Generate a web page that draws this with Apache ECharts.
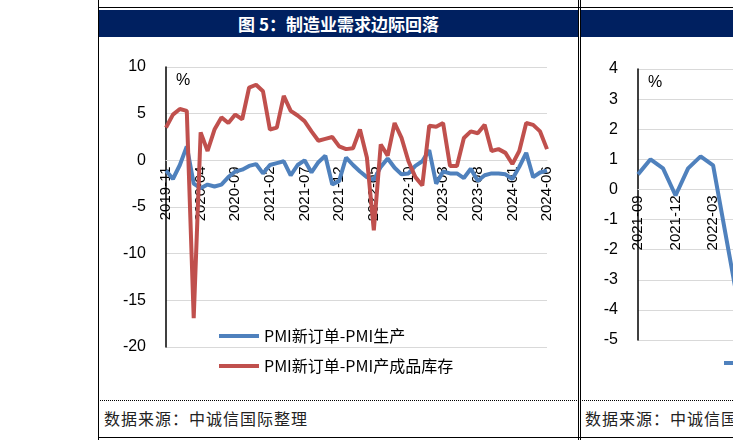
<!DOCTYPE html>
<html><head><meta charset="utf-8">
<script src="https://cdn.jsdelivr.net/npm/echarts@6/dist/echarts.min.js"></script>
<style>
body{margin:0;width:733px;height:440px;overflow:hidden;background:#fff;position:relative;font-family:"Noto Sans CJK SC",sans-serif}
.hdr{position:absolute;top:10px;height:27px;background:#002060;color:#fff;font-size:17px;font-weight:bold;line-height:27px;text-align:center}
.src{position:absolute;top:406px;font-size:16px;color:#222;letter-spacing:1px;white-space:nowrap}
.vl{position:absolute;top:0;height:440px;border-left:1.5px solid #000}
</style></head><body>
<div style="position:absolute;left:98px;top:7px;width:635px;border-top:1px solid #000"></div>
<div class="hdr" style="left:99px;width:479px">图 5：制造业需求边际回落</div>
<div class="hdr" style="left:581px;width:152px"></div>
<div id="c1" style="position:absolute;left:99px;top:38px;width:479px;height:360px"></div>
<div style="position:absolute;left:581px;top:38px;width:152px;height:360px;overflow:hidden"><div id="c2" style="width:400px;height:360px"></div></div>
<div style="position:absolute;left:98px;top:400px;width:635px;border-top:1px dotted #000"></div>
<div style="position:absolute;left:98px;top:437px;width:635px;border-top:1.5px solid #000"></div>
<div class="src" style="left:104px">数据来源：中诚信国际整理</div>
<div style="position:absolute;left:581px;top:400px;width:152px;height:36px;overflow:hidden"><div class="src" style="left:4px;top:6px">数据来源：中诚信国际整理</div></div>
<div class="vl" style="left:98px"></div><div class="vl" style="left:578px"></div><div class="vl" style="left:580px"></div>
<script>
const months=[];
for(let y=2019,m=11;!(y===2024&&m===7);){months.push(y+'-'+String(m).padStart(2,'0'));m++;if(m>12){m=1;y++;}}
const newOrderMinusProd=[-1.1,-2.0,-0.5,1.5,-2.5,-3.0,-2.6,-2.8,-2.6,-1.8,-1.2,-1.0,-0.6,-0.4,-1.4,-0.5,-0.3,-0.1,-1.6,-0.5,0.0,-1.3,-0.2,0.5,-2.6,-2.2,0.3,-0.5,-1.2,-1.8,-2.1,-0.7,0.2,-0.8,-1.5,-1.4,-0.6,-0.1,1.1,-2.5,-1.2,-1.4,-1.4,-1.9,-0.9,-2.2,-1.6,-1.4,-1.4,-1.5,-2.0,-0.7,0.8,-1.8,-1.3,-1.1];
const newOrderMinusInv=[3.5,4.9,5.5,5.3,-16.9,3.0,1.0,3.3,4.6,4.0,4.9,4.4,7.8,8.1,7.4,3.3,3.5,6.9,5.3,4.8,4.2,3.1,2.1,2.3,2.5,1.5,1.2,1.3,3.3,0.3,-7.5,1.7,0.5,4.0,2.4,-0.1,-1.8,-2.7,3.7,3.6,4.0,-0.6,-0.6,2.4,3.1,2.9,3.8,1.0,1.2,0.8,-0.4,1.0,4.0,3.8,3.1,1.2];
const months2=['2021-09','2021-10','2021-11','2021-12','2022-01','2022-02','2022-03','2022-04','2022-05','2022-06','2022-07','2022-08','2022-09','2022-10','2022-11','2022-12','2023-01','2023-02','2023-03','2023-04','2023-05','2023-06','2023-07','2023-08','2023-09','2023-10'];
const right2=[0.5,1.0,0.7,-0.2,0.7,1.1,0.8,-1.5,-3.8,-2.0,-1.0,-0.5,0.2,-0.6,-1.2,-0.8,0.9,0.5,-0.3,-1.6,-2.2,-1.5,-0.8,-0.4,-0.6,-0.9];
const F='Liberation Sans';
function mk(el,cats,series,min,max,iv,grid,lblIv,legend,off){
 const c=echarts.init(document.getElementById(el));
 grid.outerBoundsMode='none';grid.containLabel=false;
 c.setOption({animation:false,grid:grid,
  legend:legend,
  xAxis:{type:'category',data:cats,boundaryGap:false,offset:off,axisLine:{onZero:false,lineStyle:{color:'#d9d9d9'}},axisTick:{show:false},
   axisLabel:{rotate:90,interval:lblIv,color:'#000',fontSize:15,fontFamily:F,margin:6}},
  yAxis:{type:'value',min:min,max:max,interval:iv,axisLine:{show:true,lineStyle:{color:'#000',width:1.5}},
   axisLabel:{color:'#000',fontSize:16,fontFamily:F,margin:20},splitLine:{lineStyle:{color:'#d9d9d9'}},
   name:'%',nameLocation:'end',nameGap:-22,nameTextStyle:{color:'#000',fontSize:16,align:'left',padding:[0,0,0,10]}},
  series:series});
}
mk('c1',months,[
 {name:'PMI新订单-PMI生产',type:'line',data:newOrderMinusProd,symbol:'none',lineStyle:{color:'#4f81bd',width:4},itemStyle:{color:'#4f81bd'}},
 {name:'PMI新订单-PMI产成品库存',type:'line',data:newOrderMinusInv,symbol:'none',lineStyle:{color:'#c0504d',width:4},itemStyle:{color:'#c0504d'}}
],-20,10,5,{left:67,right:31,top:29,bottom:51},4,
 {orient:'vertical',left:115,top:285,itemGap:14,itemWidth:40,itemHeight:4,icon:'rect',textStyle:{fontSize:16,color:'#000',fontFamily:'Noto Sans CJK SC'}},-186.7);
mk('c2',months2,[
 {name:'a',type:'line',data:right2,symbol:'none',lineStyle:{color:'#4f81bd',width:4}}
],-5,4,1,{left:57,right:30,top:31,bottom:58},2,{show:false},-150.6);
</script>
<div style="position:absolute;left:724px;top:361px;width:12px;height:4px;background:#4f81bd"></div>
</body></html>
